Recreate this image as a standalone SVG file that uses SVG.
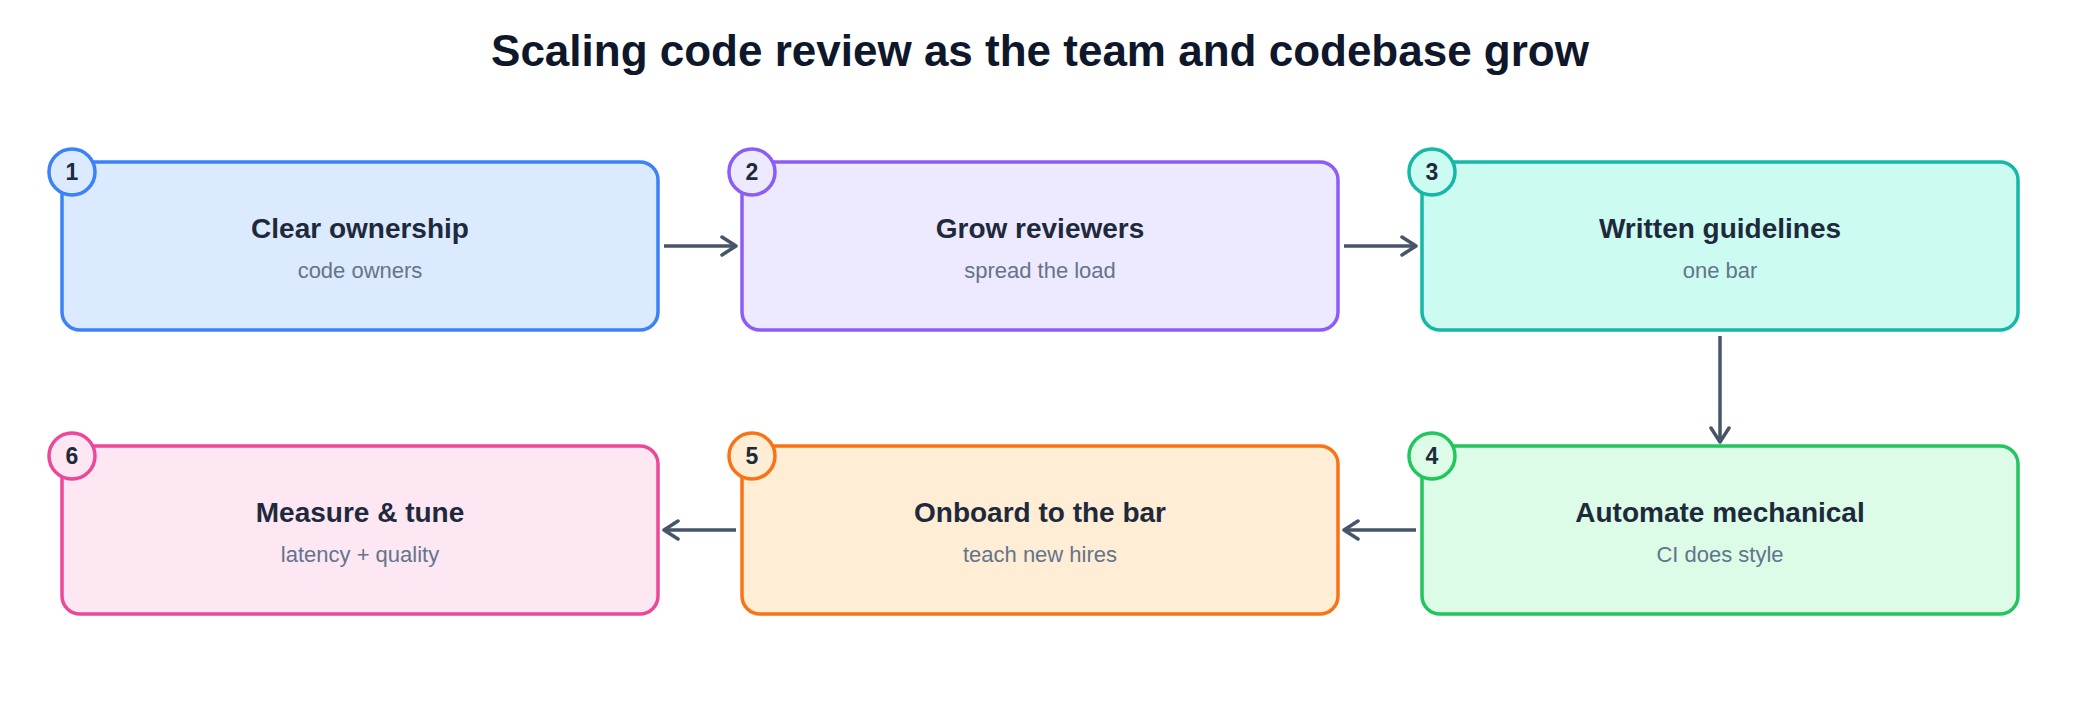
<svg xmlns="http://www.w3.org/2000/svg" width="2080" height="704" viewBox="0 0 2080 704">
<style>
.title{font-family:"Liberation Sans",Arial,sans-serif;font-size:44px;font-weight:bold;fill:#0f172a;text-anchor:middle}
.nt{font-family:"Liberation Sans",Arial,sans-serif;font-size:28px;font-weight:bold;fill:#1e293b;text-anchor:middle}
.ns{font-family:"Liberation Sans",Arial,sans-serif;font-size:22px;fill:#64748b;text-anchor:middle}
.num{font-family:"Liberation Sans",Arial,sans-serif;font-size:23px;font-weight:bold;fill:#1e293b;text-anchor:middle}
.box{stroke-width:3.5}
.edge{stroke:#475569;stroke-width:3.5;fill:none}
</style>
<defs>
<marker id="arr" viewBox="0 0 20 24" refX="18" refY="12" markerWidth="20" markerHeight="24" markerUnits="userSpaceOnUse" orient="auto">
<path d="M4,3 L18,12 L4,21" fill="none" stroke="#475569" stroke-width="3.5" stroke-linecap="round" stroke-linejoin="round"/>
</marker>
</defs>
<rect width="2080" height="704" fill="#ffffff"/>
<text class="title" x="1040" y="66">Scaling code review as the team and codebase grow</text>

<g id="connectors">
<line class="edge" x1="664" y1="246" x2="736" y2="246" marker-end="url(#arr)"/>
<line class="edge" x1="1344" y1="246" x2="1416" y2="246" marker-end="url(#arr)"/>
<line class="edge" x1="1720" y1="336" x2="1720" y2="442" marker-end="url(#arr)"/>
<line class="edge" x1="1416" y1="530" x2="1344" y2="530" marker-end="url(#arr)"/>
<line class="edge" x1="736" y1="530" x2="664" y2="530" marker-end="url(#arr)"/>
</g>

<g id="node1">
<rect class="box" x="62" y="162" width="596" height="168" rx="18" fill="#dbeafe" stroke="#3b82f6"/>
<circle cx="72" cy="172" r="23" fill="#dbeafe" stroke="#3b82f6" stroke-width="3.5"/>
<text class="num" x="72" y="180">1</text>
<text class="nt" x="360" y="238">Clear ownership</text>
<text class="ns" x="360" y="278">code owners</text>
</g>
<g id="node2">
<rect class="box" x="742" y="162" width="596" height="168" rx="18" fill="#ede9fe" stroke="#8b5cf6"/>
<circle cx="752" cy="172" r="23" fill="#ede9fe" stroke="#8b5cf6" stroke-width="3.5"/>
<text class="num" x="752" y="180">2</text>
<text class="nt" x="1040" y="238">Grow reviewers</text>
<text class="ns" x="1040" y="278">spread the load</text>
</g>
<g id="node3">
<rect class="box" x="1422" y="162" width="596" height="168" rx="18" fill="#ccfbf1" stroke="#14b8a6"/>
<circle cx="1432" cy="172" r="23" fill="#ccfbf1" stroke="#14b8a6" stroke-width="3.5"/>
<text class="num" x="1432" y="180">3</text>
<text class="nt" x="1720" y="238">Written guidelines</text>
<text class="ns" x="1720" y="278">one bar</text>
</g>
<g id="node4">
<rect class="box" x="1422" y="446" width="596" height="168" rx="18" fill="#dcfce7" stroke="#22c55e"/>
<circle cx="1432" cy="456" r="23" fill="#dcfce7" stroke="#22c55e" stroke-width="3.5"/>
<text class="num" x="1432" y="464">4</text>
<text class="nt" x="1720" y="522">Automate mechanical</text>
<text class="ns" x="1720" y="562">CI does style</text>
</g>
<g id="node5">
<rect class="box" x="742" y="446" width="596" height="168" rx="18" fill="#ffedd5" stroke="#f97316"/>
<circle cx="752" cy="456" r="23" fill="#ffedd5" stroke="#f97316" stroke-width="3.5"/>
<text class="num" x="752" y="464">5</text>
<text class="nt" x="1040" y="522">Onboard to the bar</text>
<text class="ns" x="1040" y="562">teach new hires</text>
</g>
<g id="node6">
<rect class="box" x="62" y="446" width="596" height="168" rx="18" fill="#fce7f3" stroke="#ec4899"/>
<circle cx="72" cy="456" r="23" fill="#fce7f3" stroke="#ec4899" stroke-width="3.5"/>
<text class="num" x="72" y="464">6</text>
<text class="nt" x="360" y="522">Measure &amp; tune</text>
<text class="ns" x="360" y="562">latency + quality</text>
</g>
</svg>
